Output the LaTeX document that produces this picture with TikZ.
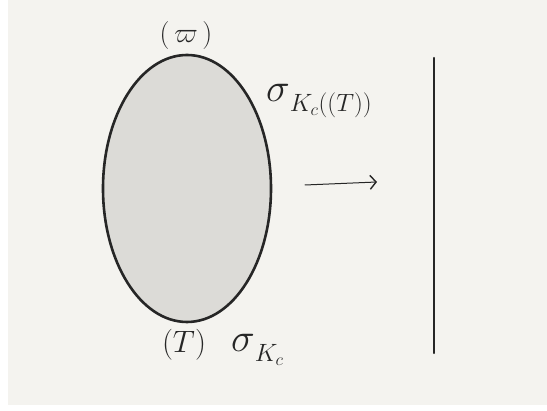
\RequirePackage{fix-cm}
\documentclass[tikz,border=0pt]{standalone}
\usetikzlibrary{arrows.meta}
\definecolor{paper}{HTML}{F4F3EF}
\definecolor{blobfill}{HTML}{DCDBD7}
\definecolor{ink}{HTML}{262626}
\newcommand{\bigsig}{\mbox{\fontsize{40}{44}\selectfont$\sigma$}}
\newcommand{\lowsub}[1]{\raisebox{-6pt}{$\textstyle #1$}}
\tikzset{
  lbl/.style={text=ink, inner sep=0pt, font=\fontsize{28}{32}\selectfont},
  siglbl/.style={text=ink, inner sep=0pt, font=\fontsize{25}{30}\selectfont},
  stroke/.style={draw=ink, line cap=round}
}
\begin{document}
\begin{tikzpicture}[x=1pt,y=-1pt]
\useasboundingbox (0,0) rectangle (547,411);
\fill[white] (0,0) rectangle (547,411);
\fill[paper] (8,0) rectangle (547,405);
% blob
\draw[stroke, fill=blobfill, line width=2.6pt] (187,188.5) ellipse [x radius=84, y radius=133.5];
\coordinate (blob) at (187,188.5);
% labels
\node[lbl] (top) at (186,36) {$(\,\varpi\,)$};
\node[lbl, font=\fontsize{31}{35}\selectfont] (T) at (184,345) {$(T)$};
\node[siglbl, anchor=west] (sigT) at (266,101) {$\bigsig_{\lowsub{K_c((T))}}$};
\node[siglbl, anchor=west] (sig) at (231,350) {$\bigsig_{\lowsub{K_c}}$};
% arrow
\coordinate (a1) at (305,185);
\coordinate (a2) at (377,182);
\draw[stroke, line width=1pt, -{Straight Barb[length=6pt,width=14pt,line width=1.4pt]}] (a1) -- (a2);
% vertical line
\coordinate (v1) at (434,58);
\coordinate (v2) at (434,353);
\draw[stroke, line width=2.4pt] (v1) -- (v2);
\end{tikzpicture}
\end{document}
